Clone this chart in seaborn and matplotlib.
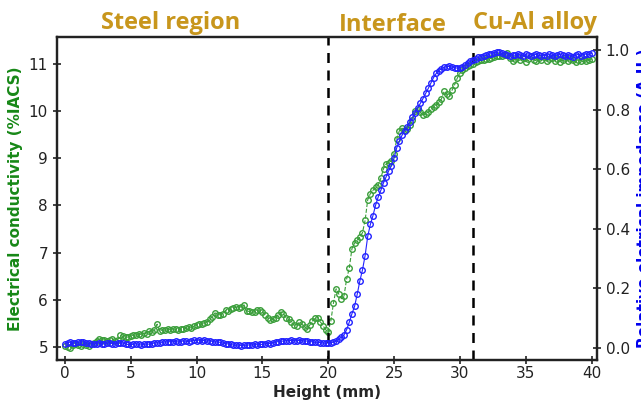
import numpy as np
import pandas as pd
import seaborn as sns
import matplotlib.pyplot as plt

# sampling grid along the specimen height (mm)
height = np.round(np.arange(0, 40.01, 0.2), 1)

# electrical conductivity (%IACS)
conductivity = [
    5.02, 5.00, 4.97, 5.03, 5.05, 5.04, 5.02, 5.06, 5.03, 5.02,
    5.05, 5.08, 5.12, 5.17, 5.14, 5.15, 5.13, 5.14, 5.16, 5.12,
    5.15, 5.24, 5.22, 5.20, 5.21, 5.23, 5.25, 5.24, 5.27, 5.26,
    5.29, 5.28, 5.33, 5.31, 5.35, 5.48, 5.33, 5.36, 5.35, 5.37,
    5.36, 5.38, 5.37, 5.35, 5.38, 5.37, 5.39, 5.41, 5.40, 5.44,
    5.47, 5.48, 5.48, 5.50, 5.53, 5.58, 5.64, 5.72, 5.68, 5.68,
    5.70, 5.77, 5.76, 5.80, 5.82, 5.84, 5.83, 5.85, 5.89, 5.76,
    5.75, 5.73, 5.74, 5.77, 5.78, 5.74, 5.68, 5.62, 5.56, 5.58,
    5.62, 5.68, 5.74, 5.70, 5.62, 5.58, 5.52, 5.46, 5.45, 5.52,
    5.48, 5.42, 5.38, 5.46, 5.55, 5.60, 5.62, 5.53, 5.45, 5.36,
    5.32, 5.55, 5.93, 6.23, 6.12, 6.02, 6.08, 6.44, 6.67, 7.08,
    7.20, 7.26, 7.33, 7.42, 7.68, 8.12, 8.25, 8.32, 8.38, 8.43,
    8.58, 8.78, 8.88, 8.90, 8.95, 9.10, 9.40, 9.58, 9.64, 9.60,
    9.62, 9.70, 9.82, 10.00, 10.02, 9.98, 9.92, 9.94, 9.98, 10.04,
    10.08, 10.14, 10.20, 10.26, 10.42, 10.36, 10.32, 10.44, 10.56, 10.70,
    10.80, 10.87, 10.92, 10.95, 10.97, 11.00, 11.04, 11.06, 11.08, 11.09,
    11.10, 11.11, 11.12, 11.14, 11.17, 11.18, 11.16, 11.20, 11.24, 11.12,
    11.06, 11.10, 11.15, 11.08, 11.12, 11.05, 11.10, 11.16, 11.09, 11.07,
    11.12, 11.08, 11.14, 11.06, 11.10, 11.13, 11.07, 11.11, 11.05, 11.09,
    11.12, 11.06, 11.10, 11.08, 11.04, 11.09, 11.07, 11.11, 11.06, 11.08,
    11.10,
]

# relative electrical impedance (A.U.)
impedance = [
    0.015, 0.018, 0.020, 0.018, 0.016, 0.019, 0.022, 0.020, 0.017, 0.016,
    0.014, 0.012, 0.015, 0.017, 0.013, 0.014, 0.016, 0.018, 0.015, 0.014,
    0.016, 0.018, 0.017, 0.014, 0.012, 0.011, 0.013, 0.015, 0.012, 0.010,
    0.012, 0.014, 0.013, 0.015, 0.017, 0.018, 0.016, 0.019, 0.021, 0.020,
    0.022, 0.021, 0.023, 0.020, 0.022, 0.024, 0.023, 0.021, 0.024, 0.026,
    0.025, 0.027, 0.024, 0.026, 0.023, 0.025, 0.022, 0.020, 0.021, 0.019,
    0.017, 0.015, 0.014, 0.012, 0.010, 0.009, 0.011, 0.008, 0.010, 0.009,
    0.011, 0.010, 0.012, 0.011, 0.013, 0.012, 0.014, 0.016, 0.015, 0.018,
    0.020, 0.022, 0.024, 0.023, 0.025, 0.024, 0.026, 0.025, 0.024, 0.026,
    0.025, 0.023, 0.024, 0.022, 0.021, 0.019, 0.020, 0.018, 0.017, 0.016,
    0.017, 0.018, 0.020, 0.023, 0.030, 0.036, 0.044, 0.062, 0.087, 0.115,
    0.140, 0.180, 0.225, 0.262, 0.310, 0.375, 0.415, 0.445, 0.480, 0.508,
    0.530, 0.555, 0.575, 0.596, 0.612, 0.638, 0.672, 0.695, 0.714, 0.730,
    0.742, 0.758, 0.775, 0.790, 0.806, 0.822, 0.838, 0.855, 0.872, 0.890,
    0.908, 0.922, 0.932, 0.938, 0.943, 0.945, 0.946, 0.944, 0.942, 0.940,
    0.942, 0.945, 0.952, 0.958, 0.963, 0.968, 0.972, 0.976, 0.979, 0.981,
    0.983, 0.986, 0.989, 0.991, 0.993, 0.994, 0.990, 0.986, 0.984, 0.982,
    0.985, 0.983, 0.987, 0.984, 0.981, 0.986, 0.983, 0.980, 0.984, 0.987,
    0.983, 0.981, 0.985, 0.982, 0.986, 0.983, 0.980, 0.984, 0.987, 0.983,
    0.981, 0.985, 0.982, 0.979, 0.984, 0.986, 0.982, 0.985, 0.988, 0.986,
    0.990,
]

boundaries = [20, 31]
regions = ["Steel region", "Interface", "Cu-Al alloy"]
region_x = [8.0, 24.9, 35.7]
region_y = [11.74, 11.70, 11.74]

data = pd.DataFrame({"height": height, "cond": conductivity, "imp": impedance})

sns.set_style("ticks")
plt.rcParams["font.family"] = ["DejaVu Sans"]

fig = plt.figure(figsize=(6.41, 4.04), dpi=100)
ax = fig.add_axes([0.089, 0.109, 0.842, 0.799])

green = "#3a9e3a"
blue = "#2222ff"

sns.lineplot(data=data, x="height", y="cond", ax=ax, color=green, linestyle="--",
             linewidth=0.8, marker="o", markersize=4, markerfacecolor="none",
             markeredgecolor=green, markeredgewidth=1.0)
ax.set_xlim(-0.6, 40.4)
ax.set_ylim(4.72, 11.57)
ax.set_xticks(range(0, 41, 5))
ax.set_yticks(range(5, 12))

for b in boundaries:
    ax.axvline(b, color="black", linestyle=(0, (4, 3)), linewidth=1.8, zorder=5)

ax2 = ax.twinx()
sns.lineplot(data=data, x="height", y="imp", ax=ax2, color=blue, linewidth=0.8,
             marker="o", markersize=4, markerfacecolor="none",
             markeredgecolor=blue, markeredgewidth=1.0)
ax2.set_ylim(-0.04, 1.044)
ax2.set_yticks([0.0, 0.2, 0.4, 0.6, 0.8, 1.0])

for a in (ax, ax2):
    for s in a.spines.values():
        s.set_linewidth(1.6)
        s.set_color("#222222")
    a.tick_params(direction="inout", length=6, width=1.2, labelsize=11,
                  colors="#222222")
ax.tick_params(axis="x", pad=1)

ax.set_xlabel("Height (mm)", fontsize=11, fontweight="bold", labelpad=3)
ax.set_ylabel("Electrical conductivity (%IACS)", fontsize=11, fontweight="bold",
              color="#178817", labelpad=4)
ax2.set_ylabel("Relative eletrical impedance (A.U.)", fontsize=11, fontweight="bold",
               color="#0000ee", labelpad=5)

for name, xr, yr in zip(regions, region_x, region_y):
    ax.text(xr, yr, name, ha="center", va="baseline", fontsize=17,
            fontweight="bold", color="#c8961c", clip_on=False,
            family=["Open Sans", "DejaVu Sans"])

fig.savefig("out.png", dpi=100)
